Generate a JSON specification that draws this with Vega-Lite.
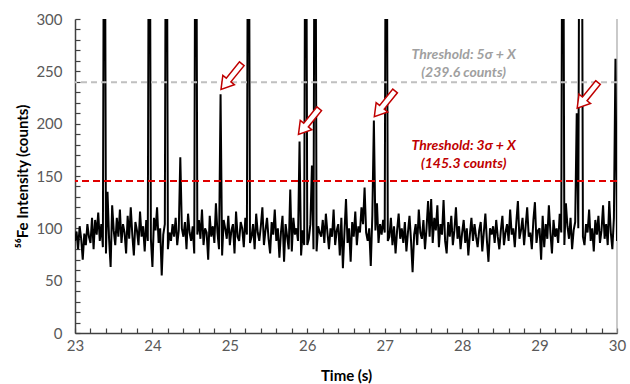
{
  "$schema": "https://vega.github.io/schema/vega-lite/v6.json",
  "width": 542,
  "height": 314,
  "autosize": "none",
  "padding": {"left": 75, "top": 19, "right": 13, "bottom": 51},
  "background": "white",
  "config": {"view": {"stroke": null}, "font": "Lato"},
  "datasets": {
    "signal": [
      {"t":23.00,"v":88},{"t":23.02,"v":97},{"t":23.04,"v":80},{"t":23.06,"v":102},{"t":23.08,"v":90},{"t":23.10,"v":70},{"t":23.12,"v":95},{"t":23.14,"v":84},{"t":23.16,"v":104},{"t":23.18,"v":92},
      {"t":23.20,"v":86},{"t":23.22,"v":110},{"t":23.24,"v":80},{"t":23.26,"v":108},{"t":23.28,"v":94},{"t":23.30,"v":115},{"t":23.32,"v":88},{"t":23.34,"v":104},{"t":23.36,"v":82},{"t":23.38,"v":600},
      {"t":23.40,"v":76},{"t":23.42,"v":135},{"t":23.44,"v":90},{"t":23.46,"v":63},{"t":23.48,"v":122},{"t":23.50,"v":98},{"t":23.52,"v":84},{"t":23.54,"v":110},{"t":23.56,"v":92},{"t":23.58,"v":118},
      {"t":23.60,"v":86},{"t":23.62,"v":104},{"t":23.64,"v":96},{"t":23.66,"v":76},{"t":23.68,"v":112},{"t":23.70,"v":90},{"t":23.72,"v":120},{"t":23.74,"v":94},{"t":23.76,"v":74},{"t":23.78,"v":106},
      {"t":23.80,"v":98},{"t":23.82,"v":84},{"t":23.84,"v":116},{"t":23.86,"v":92},{"t":23.88,"v":102},{"t":23.90,"v":78},{"t":23.92,"v":108},{"t":23.94,"v":88},{"t":23.96,"v":600},{"t":23.98,"v":90},
      {"t":24.00,"v":63},{"t":24.02,"v":110},{"t":24.04,"v":98},{"t":24.06,"v":120},{"t":24.08,"v":86},{"t":24.10,"v":100},{"t":24.12,"v":55},{"t":24.14,"v":94},{"t":24.16,"v":104},{"t":24.18,"v":600},
      {"t":24.20,"v":80},{"t":24.22,"v":96},{"t":24.24,"v":88},{"t":24.26,"v":104},{"t":24.28,"v":92},{"t":24.30,"v":110},{"t":24.32,"v":84},{"t":24.34,"v":98},{"t":24.36,"v":168},{"t":24.38,"v":100},
      {"t":24.40,"v":92},{"t":24.42,"v":106},{"t":24.44,"v":80},{"t":24.46,"v":114},{"t":24.48,"v":96},{"t":24.50,"v":88},{"t":24.52,"v":102},{"t":24.54,"v":76},{"t":24.56,"v":600},{"t":24.58,"v":94},
      {"t":24.60,"v":108},{"t":24.62,"v":90},{"t":24.64,"v":118},{"t":24.66,"v":84},{"t":24.68,"v":100},{"t":24.70,"v":96},{"t":24.72,"v":70},{"t":24.74,"v":112},{"t":24.76,"v":92},{"t":24.78,"v":102},
      {"t":24.80,"v":86},{"t":24.82,"v":124},{"t":24.84,"v":96},{"t":24.86,"v":80},{"t":24.88,"v":228},{"t":24.90,"v":74},{"t":24.92,"v":108},{"t":24.94,"v":100},{"t":24.96,"v":90},{"t":24.98,"v":112},
      {"t":25.00,"v":84},{"t":25.02,"v":98},{"t":25.04,"v":104},{"t":25.06,"v":76},{"t":25.08,"v":116},{"t":25.10,"v":92},{"t":25.12,"v":88},{"t":25.14,"v":106},{"t":25.16,"v":100},{"t":25.18,"v":82},
      {"t":25.20,"v":110},{"t":25.22,"v":94},{"t":25.24,"v":600},{"t":25.26,"v":86},{"t":25.28,"v":92},{"t":25.30,"v":104},{"t":25.32,"v":80},{"t":25.34,"v":114},{"t":25.36,"v":96},{"t":25.38,"v":88},
      {"t":25.40,"v":102},{"t":25.42,"v":120},{"t":25.44,"v":84},{"t":25.46,"v":98},{"t":25.48,"v":110},{"t":25.50,"v":90},{"t":25.52,"v":76},{"t":25.54,"v":106},{"t":25.56,"v":94},{"t":25.58,"v":118},
      {"t":25.60,"v":88},{"t":25.62,"v":100},{"t":25.64,"v":72},{"t":25.66,"v":96},{"t":25.68,"v":112},{"t":25.70,"v":68},{"t":25.72,"v":104},{"t":25.74,"v":92},{"t":25.76,"v":80},{"t":25.78,"v":137},
      {"t":25.80,"v":78},{"t":25.82,"v":110},{"t":25.84,"v":94},{"t":25.86,"v":100},{"t":25.88,"v":88},{"t":25.90,"v":183},{"t":25.92,"v":74},{"t":25.94,"v":98},{"t":25.96,"v":84},{"t":25.98,"v":600},
      {"t":26.00,"v":84},{"t":26.02,"v":90},{"t":26.04,"v":104},{"t":26.06,"v":160},{"t":26.08,"v":80},{"t":26.10,"v":600},{"t":26.12,"v":78},{"t":26.14,"v":102},{"t":26.16,"v":96},{"t":26.18,"v":92},
      {"t":26.20,"v":108},{"t":26.22,"v":86},{"t":26.24,"v":114},{"t":26.26,"v":96},{"t":26.28,"v":80},{"t":26.30,"v":100},{"t":26.32,"v":92},{"t":26.34,"v":118},{"t":26.36,"v":84},{"t":26.38,"v":98},
      {"t":26.40,"v":104},{"t":26.42,"v":74},{"t":26.44,"v":110},{"t":26.46,"v":62},{"t":26.48,"v":96},{"t":26.50,"v":128},{"t":26.52,"v":86},{"t":26.54,"v":100},{"t":26.56,"v":68},{"t":26.58,"v":106},
      {"t":26.60,"v":92},{"t":26.62,"v":116},{"t":26.64,"v":84},{"t":26.66,"v":102},{"t":26.68,"v":96},{"t":26.70,"v":120},{"t":26.72,"v":104},{"t":26.74,"v":139},{"t":26.76,"v":96},{"t":26.78,"v":88},
      {"t":26.80,"v":100},{"t":26.82,"v":64},{"t":26.84,"v":112},{"t":26.86,"v":203},{"t":26.88,"v":98},{"t":26.90,"v":124},{"t":26.92,"v":86},{"t":26.94,"v":104},{"t":26.96,"v":94},{"t":26.98,"v":108},
      {"t":27.00,"v":96},{"t":27.02,"v":600},{"t":27.04,"v":88},{"t":27.06,"v":92},{"t":27.08,"v":110},{"t":27.10,"v":84},{"t":27.12,"v":102},{"t":27.14,"v":76},{"t":27.16,"v":98},{"t":27.18,"v":114},
      {"t":27.20,"v":90},{"t":27.22,"v":100},{"t":27.24,"v":86},{"t":27.26,"v":106},{"t":27.28,"v":78},{"t":27.30,"v":96},{"t":27.32,"v":112},{"t":27.34,"v":88},{"t":27.36,"v":58},{"t":27.38,"v":94},
      {"t":27.40,"v":104},{"t":27.42,"v":84},{"t":27.44,"v":118},{"t":27.46,"v":96},{"t":27.48,"v":90},{"t":27.50,"v":108},{"t":27.52,"v":80},{"t":27.54,"v":100},{"t":27.56,"v":126},{"t":27.58,"v":92},
      {"t":27.60,"v":128},{"t":27.62,"v":86},{"t":27.64,"v":110},{"t":27.66,"v":98},{"t":27.68,"v":122},{"t":27.70,"v":82},{"t":27.72,"v":104},{"t":27.74,"v":94},{"t":27.76,"v":127},{"t":27.78,"v":88},
      {"t":27.80,"v":76},{"t":27.82,"v":106},{"t":27.84,"v":92},{"t":27.86,"v":112},{"t":27.88,"v":84},{"t":27.90,"v":98},{"t":27.92,"v":120},{"t":27.94,"v":90},{"t":27.96,"v":102},{"t":27.98,"v":80},
      {"t":28.00,"v":96},{"t":28.02,"v":108},{"t":28.04,"v":86},{"t":28.06,"v":100},{"t":28.08,"v":74},{"t":28.10,"v":94},{"t":28.12,"v":110},{"t":28.14,"v":88},{"t":28.16,"v":104},{"t":28.18,"v":92},
      {"t":28.20,"v":82},{"t":28.22,"v":98},{"t":28.24,"v":106},{"t":28.26,"v":78},{"t":28.28,"v":96},{"t":28.30,"v":114},{"t":28.32,"v":88},{"t":28.34,"v":68},{"t":28.36,"v":100},{"t":28.38,"v":94},
      {"t":28.40,"v":102},{"t":28.42,"v":86},{"t":28.44,"v":108},{"t":28.46,"v":92},{"t":28.48,"v":80},{"t":28.50,"v":98},{"t":28.52,"v":112},{"t":28.54,"v":84},{"t":28.56,"v":96},{"t":28.58,"v":104},
      {"t":28.60,"v":88},{"t":28.62,"v":118},{"t":28.64,"v":94},{"t":28.66,"v":100},{"t":28.68,"v":82},{"t":28.70,"v":106},{"t":28.72,"v":126},{"t":28.74,"v":90},{"t":28.76,"v":98},{"t":28.78,"v":110},
      {"t":28.80,"v":84},{"t":28.82,"v":102},{"t":28.84,"v":120},{"t":28.86,"v":92},{"t":28.88,"v":96},{"t":28.90,"v":80},{"t":28.92,"v":108},{"t":28.94,"v":125},{"t":28.96,"v":86},{"t":28.98,"v":98},
      {"t":29.00,"v":100},{"t":29.02,"v":70},{"t":29.04,"v":112},{"t":29.06,"v":82},{"t":29.08,"v":104},{"t":29.10,"v":90},{"t":29.12,"v":122},{"t":29.14,"v":96},{"t":29.16,"v":76},{"t":29.18,"v":108},
      {"t":29.20,"v":92},{"t":29.22,"v":100},{"t":29.24,"v":86},{"t":29.26,"v":114},{"t":29.28,"v":96},{"t":29.30,"v":600},{"t":29.32,"v":84},{"t":29.34,"v":124},{"t":29.36,"v":102},{"t":29.38,"v":90},
      {"t":29.40,"v":110},{"t":29.42,"v":80},{"t":29.44,"v":98},{"t":29.46,"v":106},{"t":29.48,"v":210},{"t":29.50,"v":100},{"t":29.52,"v":600},{"t":29.54,"v":600},{"t":29.56,"v":92},{"t":29.58,"v":84},
      {"t":29.60,"v":104},{"t":29.62,"v":96},{"t":29.64,"v":118},{"t":29.66,"v":88},{"t":29.68,"v":100},{"t":29.70,"v":78},{"t":29.72,"v":108},{"t":29.74,"v":94},{"t":29.76,"v":112},{"t":29.78,"v":86},
      {"t":29.80,"v":98},{"t":29.82,"v":122},{"t":29.84,"v":90},{"t":29.86,"v":104},{"t":29.88,"v":84},{"t":29.90,"v":126},{"t":29.92,"v":96},{"t":29.94,"v":80},{"t":29.96,"v":110},{"t":29.98,"v":262},
      {"t":30.00,"v":88}
    ],
    "grayText": [
      {"t":28.02,"v":266,"label":"Threshold: 5σ + X"},
      {"t":28.02,"v":248,"label":"(239.6 counts)"}
    ],
    "redText": [
      {"t":28.02,"v":179,"label":"Threshold: 3σ + X"},
      {"t":28.02,"v":161,"label":"(145.3 counts)"}
    ],
    "arrows": [
      {"t":25.02,"v":245},
      {"t":26.02,"v":202},
      {"t":27.00,"v":219},
      {"t":29.62,"v":227}
    ]
  },
  "encoding": {
    "x": {
      "field": "t", "type": "quantitative",
      "scale": {"domain": [23, 30], "nice": false, "zero": false},
      "axis": {
        "title": "Time (s)",
        "values": [23,23.2,23.4,23.6,23.8,24,24.2,24.4,24.6,24.8,25,25.2,25.4,25.6,25.8,26,26.2,26.4,26.6,26.8,27,27.2,27.4,27.6,27.8,28,28.2,28.4,28.6,28.8,29,29.2,29.4,29.6,29.8,30],
        "labelExpr": "abs(datum.value - round(datum.value)) < 0.001 ? format(datum.value, 'd') : ''",
        "labelOverlap": false, "labelBound": false, "labelFlush": false,
        "grid": false,
        "tickSize": -5, "tickColor": "#404040", "tickWidth": 1.2,
        "domainColor": "#404040", "domainWidth": 1.5,
        "labelFont": "Lato", "labelFontSize": 15, "labelColor": "#595959", "labelPadding": 10,
        "titleFont": "Lato", "titleFontSize": 15, "titleFontWeight": "bold", "titleColor": "#000000", "titlePadding": 15
      }
    },
    "y": {
      "field": "v", "type": "quantitative",
      "scale": {"domain": [0, 300], "nice": false},
      "axis": {
        "title": "⁵⁶Fe Intensity (counts)",
        "values": [0,10,20,30,40,50,60,70,80,90,100,110,120,130,140,150,160,170,180,190,200,210,220,230,240,250,260,270,280,290,300],
        "labelExpr": "datum.value % 50 == 0 ? format(datum.value, 'd') : ''",
        "labelOverlap": false, "labelBound": false, "labelFlush": false,
        "grid": false,
        "tickSize": -5, "tickColor": "#404040", "tickWidth": 1.2,
        "domainColor": "#404040", "domainWidth": 1.5,
        "labelFont": "Lato", "labelFontSize": 15, "labelColor": "#595959", "labelPadding": 18,
        "titleFont": "Lato", "titleFontSize": 15, "titleFontWeight": "bold", "titleColor": "#000000", "titlePadding": 5
      }
    }
  },
  "layer": [
    {
      "data": {"values": [{"t": 30}]},
      "mark": {"type": "rule", "color": "#a6a6a6", "strokeWidth": 1.2},
      "encoding": {"x": {"field": "t", "type": "quantitative"}, "y": null}
    },
    {
      "data": {"name": "signal"},
      "mark": {"type": "line", "color": "#000000", "strokeWidth": 2, "clip": true, "strokeJoin": "miter", "strokeMiterLimit": 2}
    },
    {
      "data": {"values": [{"v": 239.6}]},
      "mark": {"type": "rule", "color": "#c0c0c0", "strokeWidth": 2, "strokeDash": [6, 4]},
      "encoding": {"x": null, "y": {"field": "v", "type": "quantitative"}}
    },
    {
      "data": {"values": [{"v": 145.3}]},
      "mark": {"type": "rule", "color": "#e00000", "strokeWidth": 2, "strokeDash": [7, 4]},
      "encoding": {"x": null, "y": {"field": "v", "type": "quantitative"}}
    },
    {
      "data": {"name": "grayText"},
      "mark": {"type": "text", "font": "Lato", "fontSize": 14, "fontWeight": "bold", "fontStyle": "italic", "color": "#a0a0a0", "align": "center", "baseline": "middle"},
      "encoding": {"text": {"field": "label"}}
    },
    {
      "data": {"name": "redText"},
      "mark": {"type": "text", "font": "Lato", "fontSize": 14, "fontWeight": "bold", "fontStyle": "italic", "color": "#c00000", "align": "center", "baseline": "middle"},
      "encoding": {"text": {"field": "label"}}
    },
    {
      "data": {"name": "arrows"},
      "mark": {"type": "point", "filled": true, "fill": "#ffffff", "fillOpacity": 1, "stroke": "#c00000", "strokeWidth": 1.5, "opacity": 1, "size": 1090, "angle": 39,
        "shape": "M -0.18,-1 L 0.18,-1 L 0.18,0.27 L 0.45,0.27 L 0,1 L -0.45,0.27 L -0.18,0.27 Z"}
    }
  ]
}
